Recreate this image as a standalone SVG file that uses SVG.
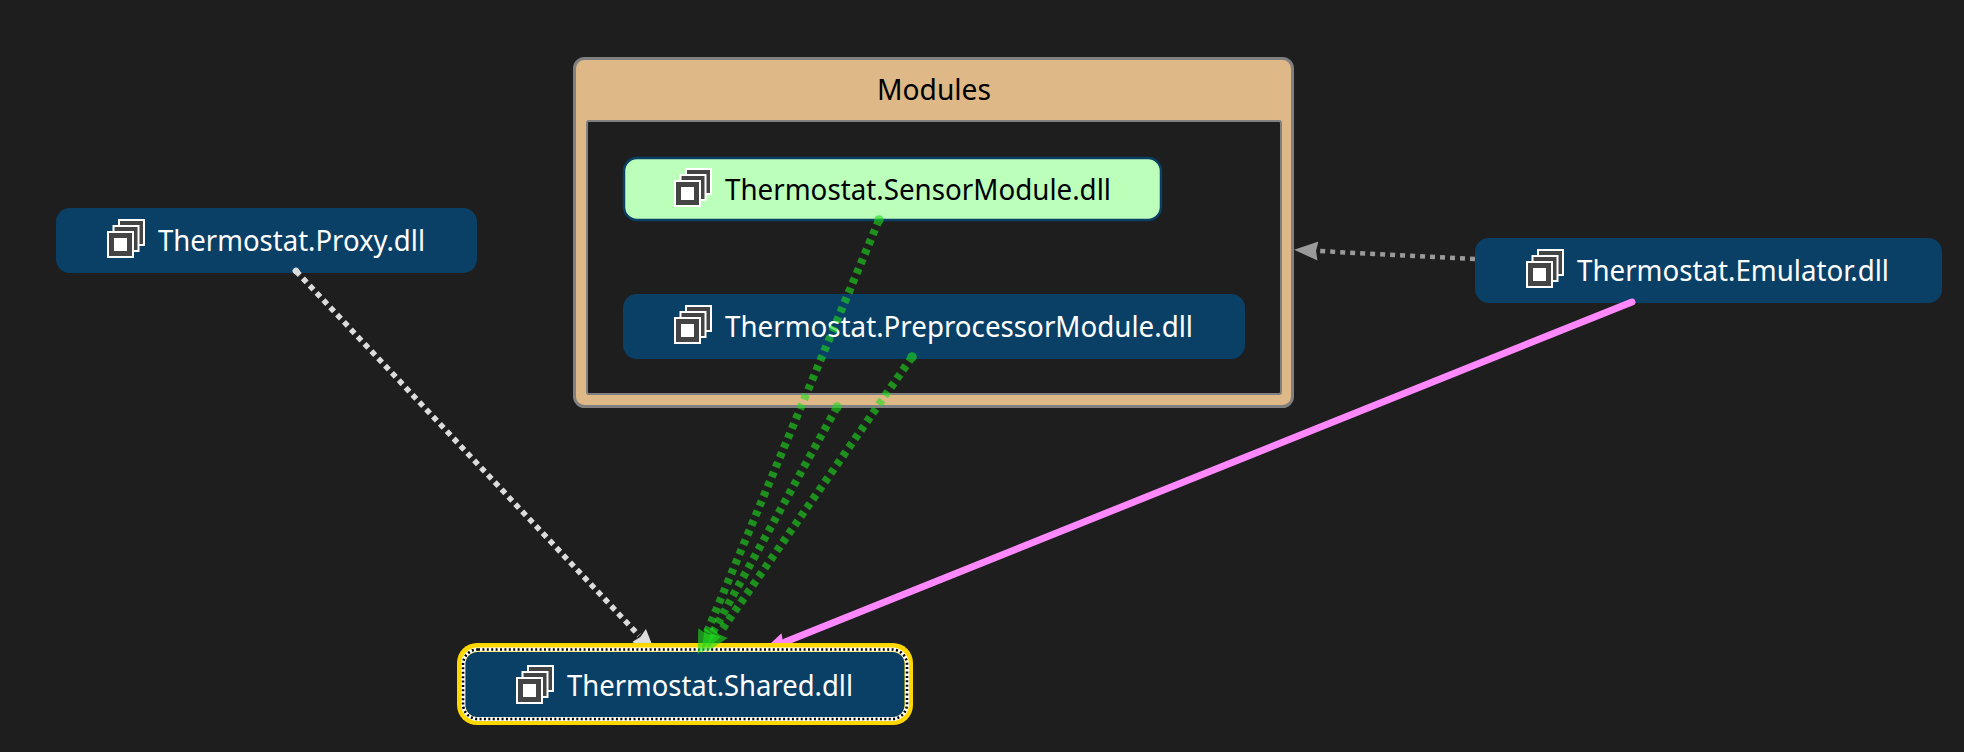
<svg xmlns="http://www.w3.org/2000/svg" width="1964" height="752" viewBox="0 0 1964 752">
<style>
.bg{fill:#1e1e1e}
.node{fill:#0a4066}
.label{font-family:"Noto Sans","Open Sans","Liberation Sans",sans-serif;font-size:28.5px;fill:#fff}
.dark{fill:#000}
.conn{fill:none}
.green{stroke:#1edc1e;stroke-width:8;stroke-dasharray:5.5 5;opacity:.6;marker-start:url(#capG);marker-end:url(#headG)}
.white{stroke:#dcdcdc;stroke-width:5.5;stroke-dasharray:5.5 4.5;marker-start:url(#capW);marker-end:url(#headW)}
.gray{stroke:#9a9a9a;stroke-width:4.5;stroke-dasharray:5 5;marker-end:url(#headK)}
.pink{stroke:#ff88ff;stroke-width:7;stroke-linecap:round;marker-end:url(#headP)}
</style>
<defs>
<symbol id="icon" overflow="visible">
<g fill="#444" stroke="#fff" stroke-width="2">
<rect x="12" y="-11" width="25" height="25"/>
<rect x="6.5" y="-5" width="25" height="25"/>
<rect x="1" y="1" width="25" height="25"/>
</g>
<rect x="7" y="7" width="13" height="13" fill="#fff"/>
</symbol>
<marker id="headG" markerUnits="userSpaceOnUse" markerWidth="26" markerHeight="22" refX="0" refY="10" orient="auto"><path d="M0,.5 24,10 0,19.5 2,10Z" fill="#1edc1e"/></marker>
<marker id="headW" markerUnits="userSpaceOnUse" markerWidth="26" markerHeight="22" refX="0" refY="10" orient="auto"><path d="M0,.5 24,10 0,19.5 2,10Z" fill="#dcdcdc"/></marker>
<marker id="headK" markerUnits="userSpaceOnUse" markerWidth="26" markerHeight="22" refX="0" refY="10" orient="auto"><path d="M0,.5 24,10 0,19.5 2,10Z" fill="#9a9a9a"/></marker>
<marker id="headP" markerUnits="userSpaceOnUse" markerWidth="26" markerHeight="22" refX="0" refY="10" orient="auto"><path d="M0,.5 24,10 0,19.5 2,10Z" fill="#ff88ff"/></marker>
<marker id="capG" markerUnits="userSpaceOnUse" markerWidth="12" markerHeight="12" refX="6" refY="6" orient="auto"><circle cx="6" cy="6" r="4.8" fill="#1edc1e"/></marker>
<marker id="capW" markerUnits="userSpaceOnUse" markerWidth="8" markerHeight="8" refX="4" refY="4" orient="auto"><circle cx="4" cy="4" r="3.4" fill="#dcdcdc"/></marker>
<clipPath id="aboveShared"><rect x="0" y="0" width="1964" height="643"/></clipPath>
</defs>
<rect class="bg" width="1964" height="752"/>
<g id="group-modules">
<rect x="574.5" y="58.5" width="718" height="348" rx="10" fill="#deb887" stroke="#808080" stroke-width="3"/>
<rect x="587" y="121" width="694" height="273" rx="2" class="bg" stroke="#808080" stroke-width="2"/>
<text class="label dark" x="877" y="100" textLength="114" lengthAdjust="spacingAndGlyphs">Modules</text>
</g>
<g id="node-sensor">
<rect x="624" y="158" width="537" height="62" rx="13" fill="#bbffbb" stroke="#0a4066" stroke-width="2.5"/>
<use href="#icon" x="674" y="180"/>
<text class="label dark" x="725" y="200" textLength="386" lengthAdjust="spacingAndGlyphs">Thermostat.SensorModule.dll</text>
</g>
<g id="node-preprocessor">
<rect class="node" x="623" y="294" width="622" height="65" rx="14"/>
<use href="#icon" x="674" y="317"/>
<text class="label" x="725" y="337" textLength="468" lengthAdjust="spacingAndGlyphs">Thermostat.PreprocessorModule.dll</text>
</g>
<g id="node-proxy">
<rect class="node" x="56" y="208" width="421" height="65" rx="14"/>
<use href="#icon" x="107" y="231"/>
<text class="label" x="158" y="251" textLength="267" lengthAdjust="spacingAndGlyphs">Thermostat.Proxy.dll</text>
</g>
<g id="node-emulator">
<rect class="node" x="1475" y="238" width="467" height="65" rx="14"/>
<use href="#icon" x="1526" y="261"/>
<text class="label" x="1577" y="281" textLength="312" lengthAdjust="spacingAndGlyphs">Thermostat.Emulator.dll</text>
</g>
<g id="node-shared">
<rect x="457" y="643" width="456" height="82" rx="20" fill="#ffd700"/>
<rect x="463" y="649.5" width="444" height="69.5" rx="15" fill="none" stroke="#fff" stroke-width="4"/>
<rect x="463" y="649.5" width="444" height="69.5" rx="15" fill="none" stroke="#000" stroke-width="2.6" stroke-dasharray="2 2.4"/>
<rect class="node" x="465.5" y="652" width="439" height="65" rx="12"/>
<use href="#icon" x="516" y="677"/>
<text class="label" x="567" y="696" textLength="286" lengthAdjust="spacingAndGlyphs">Thermostat.Shared.dll</text>
</g>
<g id="connectors">
<path class="conn white" clip-path="url(#aboveShared)" d="M296,271 639,635.5"/>
<path class="conn pink" clip-path="url(#aboveShared)" d="M1632,302 785,642"/>
<path class="conn gray" d="M1475,259 1318,251"/>
<path class="conn green" d="M879,220 707,632"/>
<path class="conn green" d="M912,357 720,632.5"/>
<path class="conn green" d="M837,407 713,632"/>
</g>
</svg>
